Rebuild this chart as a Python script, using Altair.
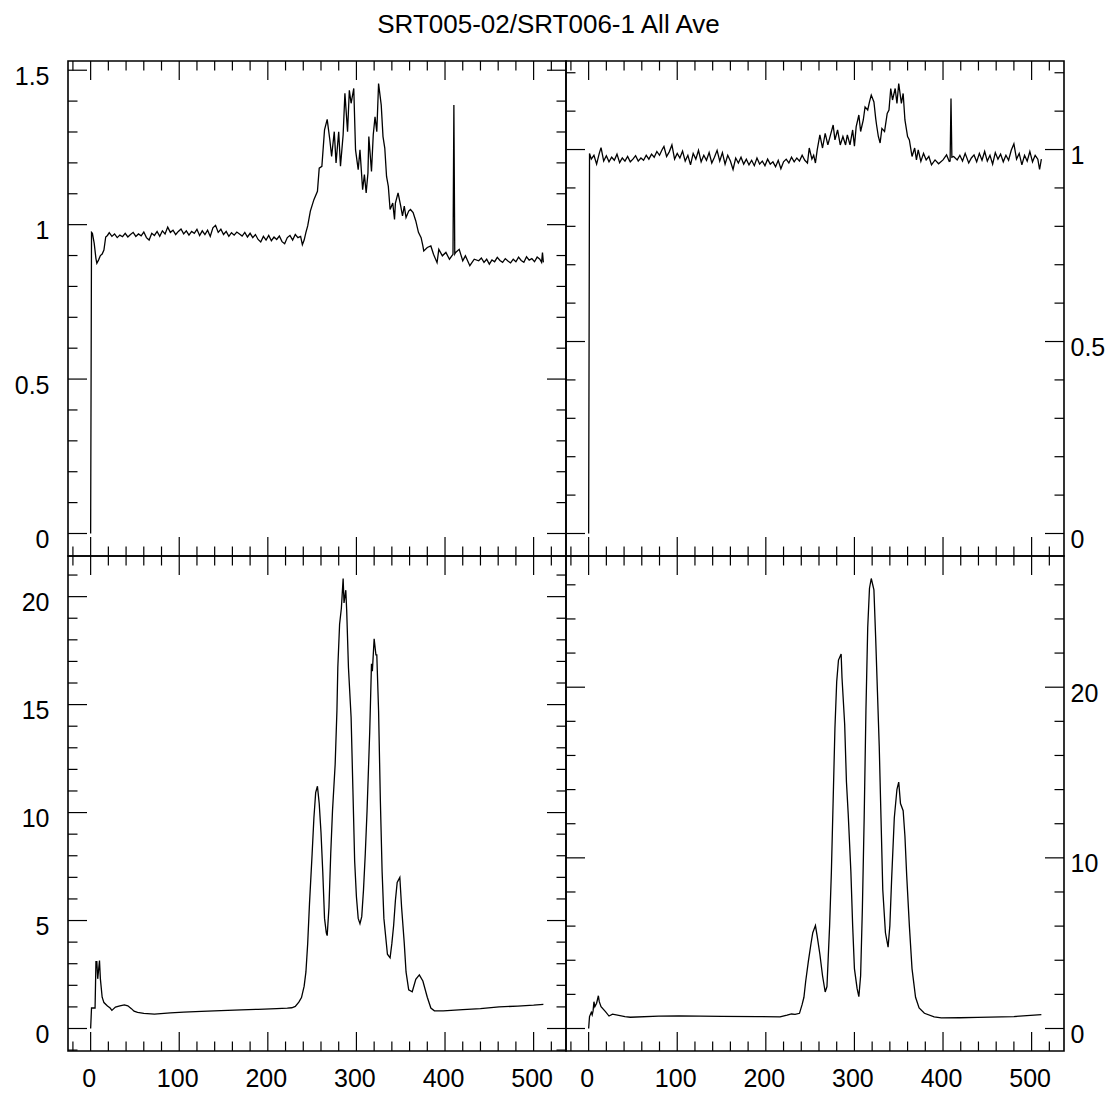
import altair as alt
import pandas as pd

FONT = "Liberation Sans"
TITLE = "SRT005-02/SRT006-1 All Ave"

# ---------------- data (channel, value) ----------------
TL_CH = [0, 1, 2, 4, 6, 7, 9, 11, 13, 15, 17, 19, 21, 24, 27, 30, 33, 36, 39, 42, 45, 48,
         51, 54, 57, 60, 63, 66, 69, 72, 75, 78, 81, 84, 87, 90, 93, 96, 99, 102, 105, 108,
         111, 114, 117, 120, 123, 126, 129, 132, 135, 138, 141, 144, 147, 150, 153, 156,
         159, 162, 165, 168, 171, 174, 177, 180, 183, 186, 189, 192, 195, 198, 201, 204,
         207, 210, 213, 216, 219, 222, 225, 228, 231, 234, 237, 239, 241, 243, 245, 248,
         252, 256, 258, 261, 264, 267, 270, 272, 275, 277, 280, 282, 285, 287, 290, 292,
         294, 297, 299, 302, 304, 307, 309, 311, 313, 314, 317, 319, 321, 323, 325, 328,
         330, 332, 334, 336, 338, 341, 343, 344, 347, 350, 352, 354, 356, 359, 361, 364,
         367, 370, 373, 375, 376, 380, 384, 387, 391, 393, 397, 401, 405, 409, 410, 411,
         412, 416, 420, 423, 428, 433, 438, 441, 444, 447, 450, 453, 456, 459, 462, 465,
         468, 471, 474, 477, 480, 483, 486, 489, 492, 495, 498, 501, 504, 507, 509, 510, 511]
TL_V = [0.0, 0.975, 0.972, 0.94, 0.89, 0.875, 0.886, 0.90, 0.905, 0.918, 0.96, 0.965, 0.974,
        0.962, 0.970, 0.958, 0.966, 0.961, 0.972, 0.960, 0.968, 0.975, 0.962, 0.970, 0.964,
        0.976, 0.958, 0.950, 0.972, 0.965, 0.978, 0.962, 0.980, 0.970, 0.992, 0.975, 0.982,
        0.968, 0.978, 0.986, 0.970, 0.980, 0.966, 0.978, 0.972, 0.985, 0.965, 0.980, 0.968,
        0.982, 0.962, 0.990, 0.998, 0.975, 0.985, 0.968, 0.978, 0.962, 0.974, 0.966, 0.976,
        0.970, 0.963, 0.975, 0.960, 0.972, 0.958, 0.968, 0.952, 0.944, 0.962, 0.950, 0.965,
        0.948, 0.960, 0.952, 0.963, 0.945, 0.938, 0.958, 0.965, 0.950, 0.968, 0.958, 0.962,
        0.935, 0.950, 0.975, 0.996, 1.044, 1.081, 1.108, 1.183, 1.189, 1.307, 1.341, 1.274,
        1.221, 1.301, 1.200, 1.301, 1.189, 1.291, 1.425, 1.301, 1.435, 1.393, 1.441, 1.242,
        1.178, 1.242, 1.113, 1.162, 1.103, 1.167, 1.285, 1.172, 1.291, 1.349, 1.301, 1.457,
        1.387, 1.285, 1.248, 1.156, 1.124, 1.049, 1.070, 1.017, 1.070, 1.103, 1.060, 1.028,
        1.060, 1.023, 1.044, 1.049, 1.039, 1.012, 0.975, 0.958, 0.931, 0.915, 0.926, 0.931,
        0.904, 0.877, 0.920, 0.899, 0.910, 0.888, 0.904, 1.387, 0.905, 0.910, 0.920, 0.883,
        0.899, 0.867, 0.888, 0.883, 0.892, 0.878, 0.888, 0.872, 0.886, 0.880, 0.894, 0.884,
        0.878, 0.890, 0.882, 0.876, 0.888, 0.880, 0.895, 0.884, 0.878, 0.896, 0.885, 0.890,
        0.880, 0.895, 0.888, 0.878, 0.910, 0.878]

TR_CH = [0, 1, 3, 6, 9, 12, 14, 17, 20, 23, 26, 29, 32, 35, 38, 41, 44, 47, 50, 53, 56, 59,
         62, 65, 68, 71, 74, 77, 80, 83, 85, 88, 91, 94, 97, 100, 103, 106, 109, 112, 115,
         118, 121, 124, 127, 130, 133, 136, 139, 142, 145, 148, 151, 154, 157, 160, 163,
         166, 169, 172, 175, 178, 181, 184, 187, 190, 193, 196, 199, 202, 205, 208, 211,
         214, 217, 220, 223, 226, 229, 232, 235, 238, 241, 244, 247, 249, 252, 254, 256,
         258, 261, 264, 267, 270, 273, 276, 278, 281, 284, 287, 290, 292, 295, 298, 300,
         302, 305, 307, 310, 312, 315, 317, 319, 322, 324, 325, 327, 329, 331, 334, 337,
         339, 341, 343, 346, 348, 350, 353, 355, 357, 360, 362, 365, 368, 370, 372, 375,
         378, 381, 384, 387, 391, 395, 400, 404, 407, 408, 409, 410, 412, 416, 419, 422,
         425, 429, 432, 435, 438, 441, 444, 447, 450, 453, 456, 459, 462, 465, 468, 471,
         474, 477, 480, 483, 486, 489, 492, 495, 498, 501, 504, 507, 509, 511]
TR_V = [0.0, 0.990, 0.975, 0.985, 0.962, 0.990, 1.005, 0.970, 0.984, 0.968, 0.980, 0.972,
        0.988, 0.966, 0.978, 0.970, 0.982, 0.968, 0.975, 0.984, 0.970, 0.978, 0.972, 0.985,
        0.975, 0.988, 0.980, 0.995, 0.985, 1.000, 1.008, 0.982, 0.994, 1.012, 0.975, 0.990,
        0.978, 0.996, 0.970, 0.985, 0.960, 0.990, 0.975, 0.998, 0.968, 0.985, 0.972, 0.992,
        0.965, 0.980, 0.998, 0.970, 0.992, 0.962, 0.985, 0.970, 0.948, 0.978, 0.965, 0.980,
        0.962, 0.975, 0.960, 0.972, 0.958, 0.978, 0.962, 0.970, 0.958, 0.975, 0.962, 0.968,
        0.955, 0.972, 0.950, 0.968, 0.975, 0.965, 0.980, 0.968, 0.978, 0.970, 0.985, 0.972,
        0.965, 1.004, 0.975, 0.985, 0.965, 0.999, 1.038, 1.004, 1.042, 1.012, 1.038, 1.064,
        1.025, 1.051, 1.012, 1.034, 1.012, 1.038, 1.012, 1.051, 1.009, 1.060, 1.090, 1.047,
        1.077, 1.111, 1.103, 1.124, 1.142, 1.124, 1.081, 1.064, 1.034, 1.017, 1.055, 1.047,
        1.094, 1.103, 1.159, 1.129, 1.159, 1.120, 1.172, 1.120, 1.146, 1.077, 1.034, 1.025,
        0.982, 1.004, 0.973, 0.999, 0.969, 0.990, 0.973, 0.982, 0.960, 0.973, 0.963, 0.973,
        0.986, 0.969, 0.970, 1.133, 0.980, 0.982, 0.973, 0.985, 0.970, 0.990, 0.965, 0.978,
        0.986, 0.968, 0.990, 0.972, 0.995, 0.970, 0.985, 0.962, 0.992, 0.975, 0.988, 0.968,
        0.985, 0.972, 0.998, 1.015, 0.975, 0.990, 0.960, 0.985, 0.970, 0.995, 0.968, 0.985,
        0.975, 0.948, 0.975]

BL_CH = [0, 1, 5, 6, 7, 8, 10, 11, 13, 15, 19, 22, 24, 28, 33, 38, 42, 46, 49, 53, 60, 72,
         90, 105, 125, 147, 170, 189, 210, 222, 227, 231, 235, 238, 241, 243, 245, 247, 250,
         252, 254, 256, 258, 260, 262, 264, 266, 267, 269, 271, 273, 276, 278, 279, 281, 283,
         285, 286, 288, 289, 291, 294, 296, 298, 300, 302, 304, 306, 308, 310, 312, 315, 317,
         318, 320, 322, 323, 325, 327, 329, 331, 335, 338, 340, 342, 344, 346, 349, 351, 354,
         356, 359, 363, 367, 371, 375, 380, 384, 388, 398, 420, 440, 461, 482, 500, 511]
BL_V = [0.0, 0.95, 0.95, 3.1, 3.1, 2.3, 3.15, 2.3, 1.45, 1.2, 1.04, 0.95, 0.84, 0.99, 1.05,
        1.09, 1.05, 0.92, 0.80, 0.75, 0.70, 0.67, 0.72, 0.76, 0.79, 0.83, 0.86, 0.89, 0.92,
        0.94, 0.96, 1.02, 1.22, 1.43, 1.96, 2.62, 3.94, 5.76, 8.09, 9.75, 10.92, 11.22, 10.42,
        9.09, 7.26, 5.1, 4.43, 4.3, 5.6, 8.09, 10.08, 12.24, 14.73, 16.72, 18.72, 19.46,
        20.84, 19.71, 20.3, 19.38, 16.72, 14.4, 11.1, 7.76, 6.1, 5.1, 4.85, 5.18, 6.43, 8.09,
        10.08, 13.73, 16.89, 16.55, 18.05, 17.3, 17.3, 14.73, 10.58, 7.26, 5.1, 3.44, 3.27,
        3.94, 4.77, 5.93, 6.76, 7.0, 5.6, 3.94, 2.62, 1.79, 1.70, 2.28, 2.48, 2.2, 1.45, 0.95,
        0.82, 0.82, 0.87, 0.92, 1.0, 1.04, 1.08, 1.12]

BR_CH = [0, 1, 3, 4, 5, 6, 7, 9, 11, 12, 14, 19, 23, 27, 41, 47, 79, 102, 150, 191, 216,
         224, 229, 233, 238, 241, 243, 245, 248, 251, 253, 256, 258, 261, 264, 267, 269, 272,
         274, 276, 278, 280, 282, 285, 286, 289, 291, 293, 296, 298, 300, 303, 305, 307, 309,
         311, 313, 315, 317, 319, 322, 324, 326, 328, 330, 332, 335, 338, 340, 342, 345, 348,
         350, 352, 355, 357, 359, 362, 365, 369, 373, 379, 390, 398, 419, 439, 480, 511]
BR_V = [0.0, 0.70, 0.95, 0.80, 1.03, 1.57, 1.28, 1.48, 1.92, 1.57, 1.28, 0.99, 0.73, 0.84,
        0.70, 0.66, 0.72, 0.74, 0.71, 0.70, 0.68, 0.78, 0.85, 0.83, 0.89, 1.41, 1.83, 2.77,
        3.93, 4.98, 5.61, 6.03, 5.4, 4.35, 3.09, 2.14, 2.46, 6.03, 9.18, 13.39, 17.6, 20.33,
        21.59, 21.95, 20.54, 17.81, 14.44, 12.55, 9.18, 6.03, 3.51, 2.35, 1.87, 3.09, 7.08,
        12.34, 18.65, 23.49, 25.8, 26.37, 25.7, 22.86, 19.7, 16.54, 12.34, 8.13, 5.61, 4.77,
        6.03, 8.76, 12.34, 14.02, 14.44, 13.18, 12.76, 11.28, 8.97, 6.03, 3.51, 1.83, 1.2,
        0.89, 0.68, 0.62, 0.63, 0.65, 0.70, 0.81]

# ---------------- tick values ----------------
X_MAJOR = [0, 100, 200, 300, 400, 500]
X_MINOR = [-20, 20, 40, 60, 80, 120, 140, 160, 180, 220, 240, 260, 280, 320, 340, 360, 380,
           420, 440, 460, 480, 520]
TL_MAJOR = [0, 0.5, 1, 1.5]
TL_MINOR = [0.1, 0.2, 0.3, 0.4, 0.6, 0.7, 0.8, 0.9, 1.1, 1.2, 1.3, 1.4]
TR_MAJOR = [0, 0.5, 1]
TR_MINOR = [0.1, 0.2, 0.3, 0.4, 0.6, 0.7, 0.8, 0.9, 1.1, 1.2]
BL_MAJOR = [0, 5, 10, 15, 20]
BL_MINOR = [-1, 1, 2, 3, 4, 6, 7, 8, 9, 11, 12, 13, 14, 16, 17, 18, 19, 21]
BR_MAJOR = [0, 10, 20]
BR_MINOR = [2, 4, 6, 8, 12, 14, 16, 18, 22, 24, 26]

W = 498
H = 495
MAJ = 19
MIN = 9.5
LABEL_SIZE = 25
XDOM = [-0.05 * 511, 511 * 1.05]


def ydomain(vals):
    lo, hi = min(vals), max(vals)
    r = hi - lo
    return [lo - 0.05 * r, hi + 0.05 * r]


def panel(ch, vals, y_major, y_minor, left, bottom):
    xs = alt.Scale(domain=XDOM, nice=False, zero=False)
    ys = alt.Scale(domain=ydomain(vals), nice=False, zero=False)
    if bottom:
        xaxis = alt.Axis(values=X_MAJOR, ticks=False, tickSize=0, domain=False, grid=False,
                         labelFontSize=LABEL_SIZE, labelFont=FONT, labelColor="black",
                         labelPadding=15, labelOffset=-2, labelFlush=False,
                         labelOverlap=False, title=None, format="~r")
    else:
        xaxis = None
    yaxis = alt.Axis(orient="left" if left else "right", values=y_major, ticks=False,
                     tickSize=0, domain=False, grid=False, labelFontSize=LABEL_SIZE,
                     labelFont=FONT, labelColor="black",
                     labelPadding=19 if left else 6, labelOffset=6, labelFlush=False,
                     labelOverlap=False, title=None, format="~r")
    df = pd.DataFrame({"c": ch, "v": vals})
    line = alt.Chart(df).mark_line(color="black", strokeWidth=1.3).encode(
        x=alt.X("c:Q", scale=xs, axis=xaxis),
        y=alt.Y("v:Q", scale=ys, axis=yaxis),
    )
    layers = [line]
    for vals_t, ln in ((X_MAJOR, MAJ), (X_MINOR, MIN)):
        d = pd.DataFrame({"c": vals_t})
        for y0, y1 in ((0, ln), (H, H - ln)):
            layers.append(
                alt.Chart(d).mark_rule(color="black", strokeWidth=1.2).encode(
                    x=alt.X("c:Q", scale=xs, axis=xaxis),
                    y=alt.value(y0), y2=alt.value(y1)))
    for vals_t, ln in ((y_major, MAJ), (y_minor, MIN)):
        d = pd.DataFrame({"v": vals_t})
        for x0, x1 in ((0, ln), (W, W - ln)):
            layers.append(
                alt.Chart(d).mark_rule(color="black", strokeWidth=1.2).encode(
                    y=alt.Y("v:Q", scale=ys, axis=yaxis),
                    x=alt.value(x0), x2=alt.value(x1)))
    return alt.layer(*layers).properties(width=W, height=H)


tl = panel(TL_CH, TL_V, TL_MAJOR, TL_MINOR, True, False)
tr = panel(TR_CH, TR_V, TR_MAJOR, TR_MINOR, False, False)
bl = panel(BL_CH, BL_V, BL_MAJOR, BL_MINOR, True, True)
br = panel(BR_CH, BR_V, BR_MAJOR, BR_MINOR, False, True)

chart = alt.concat(tl, tr, bl, br, columns=2, spacing=0, bounds="flush").properties(
    title=alt.TitleParams(TITLE, fontSize=26, font=FONT, fontWeight="normal",
                          color="black", anchor="middle", dx=-11, offset=22),
    padding={"left": 5, "top": 3, "right": 0, "bottom": 0},
    background="white",
).configure_view(stroke="black", strokeWidth=1.6)

chart.save("out.html", embed_options={"renderer": "svg", "actions": False})
